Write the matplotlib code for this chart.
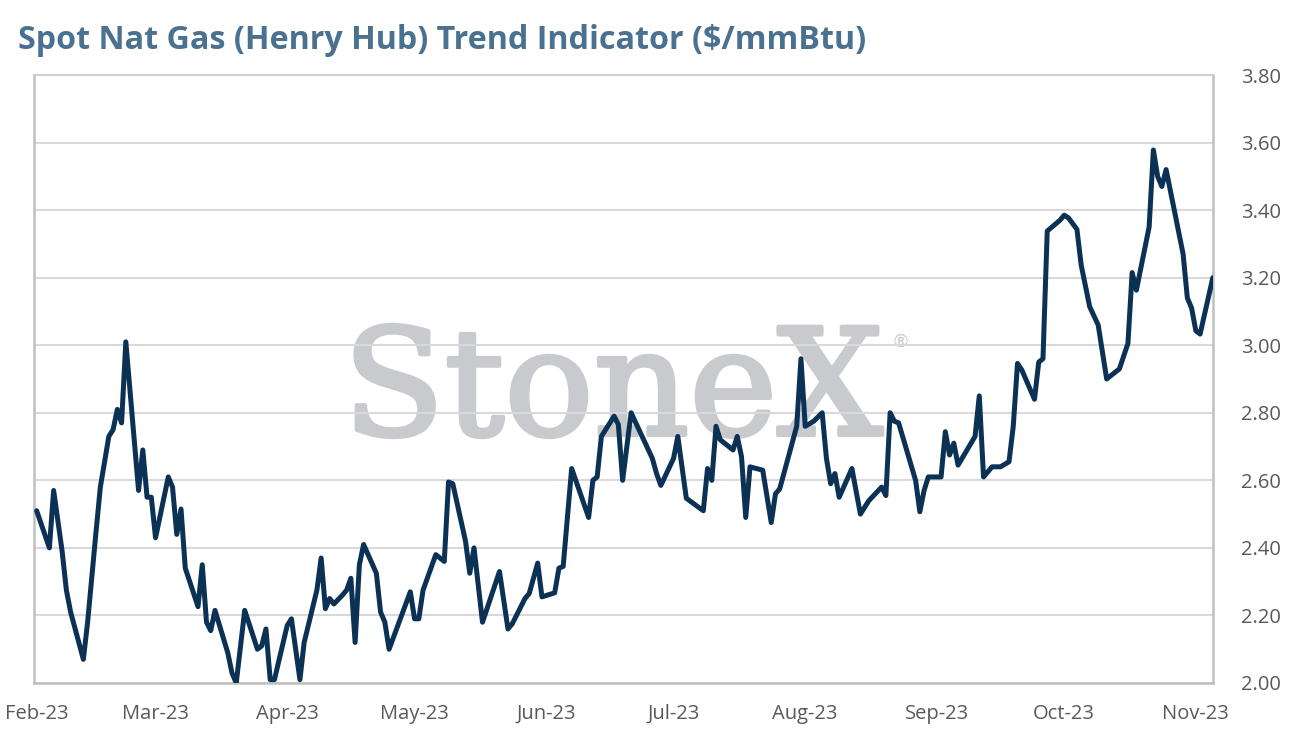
import matplotlib
matplotlib.use("Agg")
import matplotlib.pyplot as plt
import matplotlib.dates as mdates
import matplotlib.ticker as mticker
import matplotlib.patheffects as pe
import pandas as pd

dates = [
    "2023-02-01","2023-02-04","2023-02-05","2023-02-07","2023-02-08","2023-02-09","2023-02-12","2023-02-13",
    "2023-02-15","2023-02-16","2023-02-18","2023-02-19","2023-02-20","2023-02-21","2023-02-22","2023-02-25",
    "2023-02-26","2023-02-27","2023-02-28","2023-03-01","2023-03-04","2023-03-05","2023-03-06","2023-03-07",
    "2023-03-08","2023-03-11","2023-03-12","2023-03-13","2023-03-14","2023-03-15","2023-03-18","2023-03-19",
    "2023-03-20","2023-03-22","2023-03-25","2023-03-26","2023-03-27","2023-03-28","2023-03-29","2023-04-01",
    "2023-04-02","2023-04-04","2023-04-05","2023-04-08","2023-04-09","2023-04-10","2023-04-11","2023-04-12",
    "2023-04-14","2023-04-15","2023-04-16","2023-04-17","2023-04-18","2023-04-19","2023-04-22","2023-04-23",
    "2023-04-24","2023-04-25","2023-04-30","2023-05-01","2023-05-02","2023-05-03","2023-05-06","2023-05-08",
    "2023-05-09","2023-05-10","2023-05-13","2023-05-14","2023-05-15","2023-05-17","2023-05-21","2023-05-23",
    "2023-05-24","2023-05-27","2023-05-28","2023-05-30","2023-05-31","2023-06-03","2023-06-04","2023-06-05",
    "2023-06-07","2023-06-11","2023-06-12","2023-06-13","2023-06-14","2023-06-17","2023-06-18","2023-06-19",
    "2023-06-21","2023-06-26","2023-06-27","2023-06-28","2023-07-01","2023-07-02","2023-07-04","2023-07-08",
    "2023-07-09","2023-07-10","2023-07-11","2023-07-12","2023-07-15","2023-07-16","2023-07-17","2023-07-18",
    "2023-07-19","2023-07-22","2023-07-24","2023-07-25","2023-07-26","2023-07-30","2023-07-31","2023-08-01",
    "2023-08-03","2023-08-05","2023-08-06","2023-08-07","2023-08-08","2023-08-09","2023-08-12","2023-08-14",
    "2023-08-16","2023-08-19","2023-08-20","2023-08-21","2023-08-22","2023-08-23","2023-08-27","2023-08-28",
    "2023-08-29","2023-08-30","2023-09-02","2023-09-03","2023-09-04","2023-09-05","2023-09-06","2023-09-10",
    "2023-09-11","2023-09-12","2023-09-14","2023-09-16","2023-09-18","2023-09-19","2023-09-20","2023-09-21",
    "2023-09-24","2023-09-25","2023-09-26","2023-09-27","2023-09-30","2023-10-01","2023-10-02","2023-10-04",
    "2023-10-05","2023-10-07","2023-10-09","2023-10-10","2023-10-11","2023-10-14","2023-10-16","2023-10-17",
    "2023-10-18","2023-10-21","2023-10-22","2023-10-23","2023-10-24","2023-10-25","2023-10-29","2023-10-30",
    "2023-10-31","2023-11-01","2023-11-02","2023-11-05",
]
prices = [
    2.51, 2.40, 2.57, 2.39, 2.275, 2.21, 2.07, 2.18,
    2.45, 2.58, 2.73, 2.75, 2.81, 2.77, 3.01, 2.57,
    2.69, 2.55, 2.55, 2.43, 2.61, 2.58, 2.44, 2.515,
    2.34, 2.226, 2.35, 2.18, 2.155, 2.215, 2.09, 2.03,
    2.00, 2.215, 2.10, 2.11, 2.16, 2.01, 2.01, 2.17,
    2.19, 2.01, 2.12, 2.275, 2.37, 2.22, 2.25, 2.234,
    2.26, 2.275, 2.31, 2.12, 2.35, 2.41, 2.325, 2.21,
    2.18, 2.10, 2.27, 2.19, 2.19, 2.275, 2.38, 2.36,
    2.595, 2.59, 2.42, 2.325, 2.40, 2.18, 2.33, 2.16,
    2.175, 2.25, 2.265, 2.355, 2.255, 2.267, 2.34, 2.345,
    2.635, 2.49, 2.60, 2.61, 2.73, 2.79, 2.765, 2.60,
    2.80, 2.665, 2.62, 2.585, 2.665, 2.73, 2.547, 2.51,
    2.635, 2.60, 2.76, 2.72, 2.69, 2.73, 2.67, 2.49,
    2.64, 2.63, 2.475, 2.56, 2.575, 2.76, 2.96, 2.76,
    2.775, 2.80, 2.665, 2.59, 2.62, 2.55, 2.635, 2.50,
    2.54, 2.58, 2.555, 2.80, 2.775, 2.77, 2.60, 2.507,
    2.57, 2.61, 2.61, 2.744, 2.675, 2.71, 2.645, 2.73,
    2.85, 2.61, 2.64, 2.64, 2.655, 2.76, 2.946, 2.927,
    2.84, 2.95, 2.96, 3.338, 3.37, 3.385, 3.377, 3.343,
    3.237, 3.114, 3.06, 2.98, 2.90, 2.93, 3.005, 3.215,
    3.163, 3.35, 3.578, 3.50, 3.47, 3.52, 3.27, 3.14,
    3.11, 3.043, 3.033, 3.20,
]
title = "Spot Nat Gas (Henry Hub) Trend Indicator ($/mmBtu)"
y_ticks = [2.00, 2.20, 2.40, 2.60, 2.80, 3.00, 3.20, 3.40, 3.60, 3.80]
month_ticks = ["2023-02-01","2023-03-01","2023-04-01","2023-05-01","2023-06-01",
               "2023-07-01","2023-08-01","2023-09-01","2023-10-01","2023-11-01"]

x = pd.to_datetime(dates)

plt.rcParams['font.family'] = ['Open Sans', 'DejaVu Sans']

W, H = 1290, 741
fig = plt.figure(figsize=(W / 100, H / 100), dpi=100)
ax = fig.add_axes([34 / W, 1 - 683 / H, (1213 - 34) / W, (683 - 75) / H])
renderer = fig.canvas.get_renderer()


def fit_width(t, target_px):
    bb = t.get_window_extent(renderer=renderer)
    t.set_fontsize(t.get_fontsize() * target_px / bb.width)


wm_color = "#c9cacd"
# watermark (inside the axes, below the line)
wm = ax.text(613 / W, 1 - 435 / H, "StoneX", transform=fig.transFigure,
             ha="center", va="baseline", fontsize=110, family="DejaVu Serif",
             color=wm_color, zorder=0.5)
fit_width(wm, 540)
wm.set_path_effects([pe.withStroke(linewidth=3.0, foreground=wm_color)])
ax.text(900 / W, 1 - 342 / H, "®", transform=fig.transFigure, ha="center",
        va="center", fontsize=13, family="DejaVu Sans", color=wm_color, zorder=0.5)

ax.plot(x, prices, color="#0b3154", lw=3.6, solid_joinstyle="round",
        solid_capstyle="round", zorder=3)

ax.set_ylim(2.0, 3.8)
ax.set_yticks(y_ticks)
ax.yaxis.set_major_formatter(mticker.FormatStrFormatter("%.2f"))
ax.yaxis.tick_right()
start = pd.Timestamp("2023-02-01")
ax.set_xlim(start - pd.Timedelta(hours=15), start + pd.Timedelta(hours=int(277.05 * 24)))
ax.set_xticks(pd.to_datetime(month_ticks))
ax.xaxis.set_major_formatter(mdates.DateFormatter("%b-%y"))

ax.grid(axis="y", color="#d9d9d9", lw=1.5, zorder=1)
ax.grid(axis="x", visible=False)
ax.set_axisbelow(True)
for side in ["left", "right", "bottom"]:
    ax.spines[side].set_color("#c0c0c0")
    ax.spines[side].set_linewidth(1.8)
ax.spines["top"].set_color("#d0d0d0")
ax.spines["top"].set_linewidth(1.5)
ax.tick_params(axis="both", length=0, labelsize=14.5, labelcolor="#595959")
ax.tick_params(axis="y", pad=20)
ax.tick_params(axis="x", pad=15)

tt = fig.text(18 / W, 1 - 49 / H, title, ha="left", va="baseline", fontsize=22,
              fontweight="bold", color="#4a7190")
fit_width(tt, 845)

fig.savefig("out.png", dpi=100)
